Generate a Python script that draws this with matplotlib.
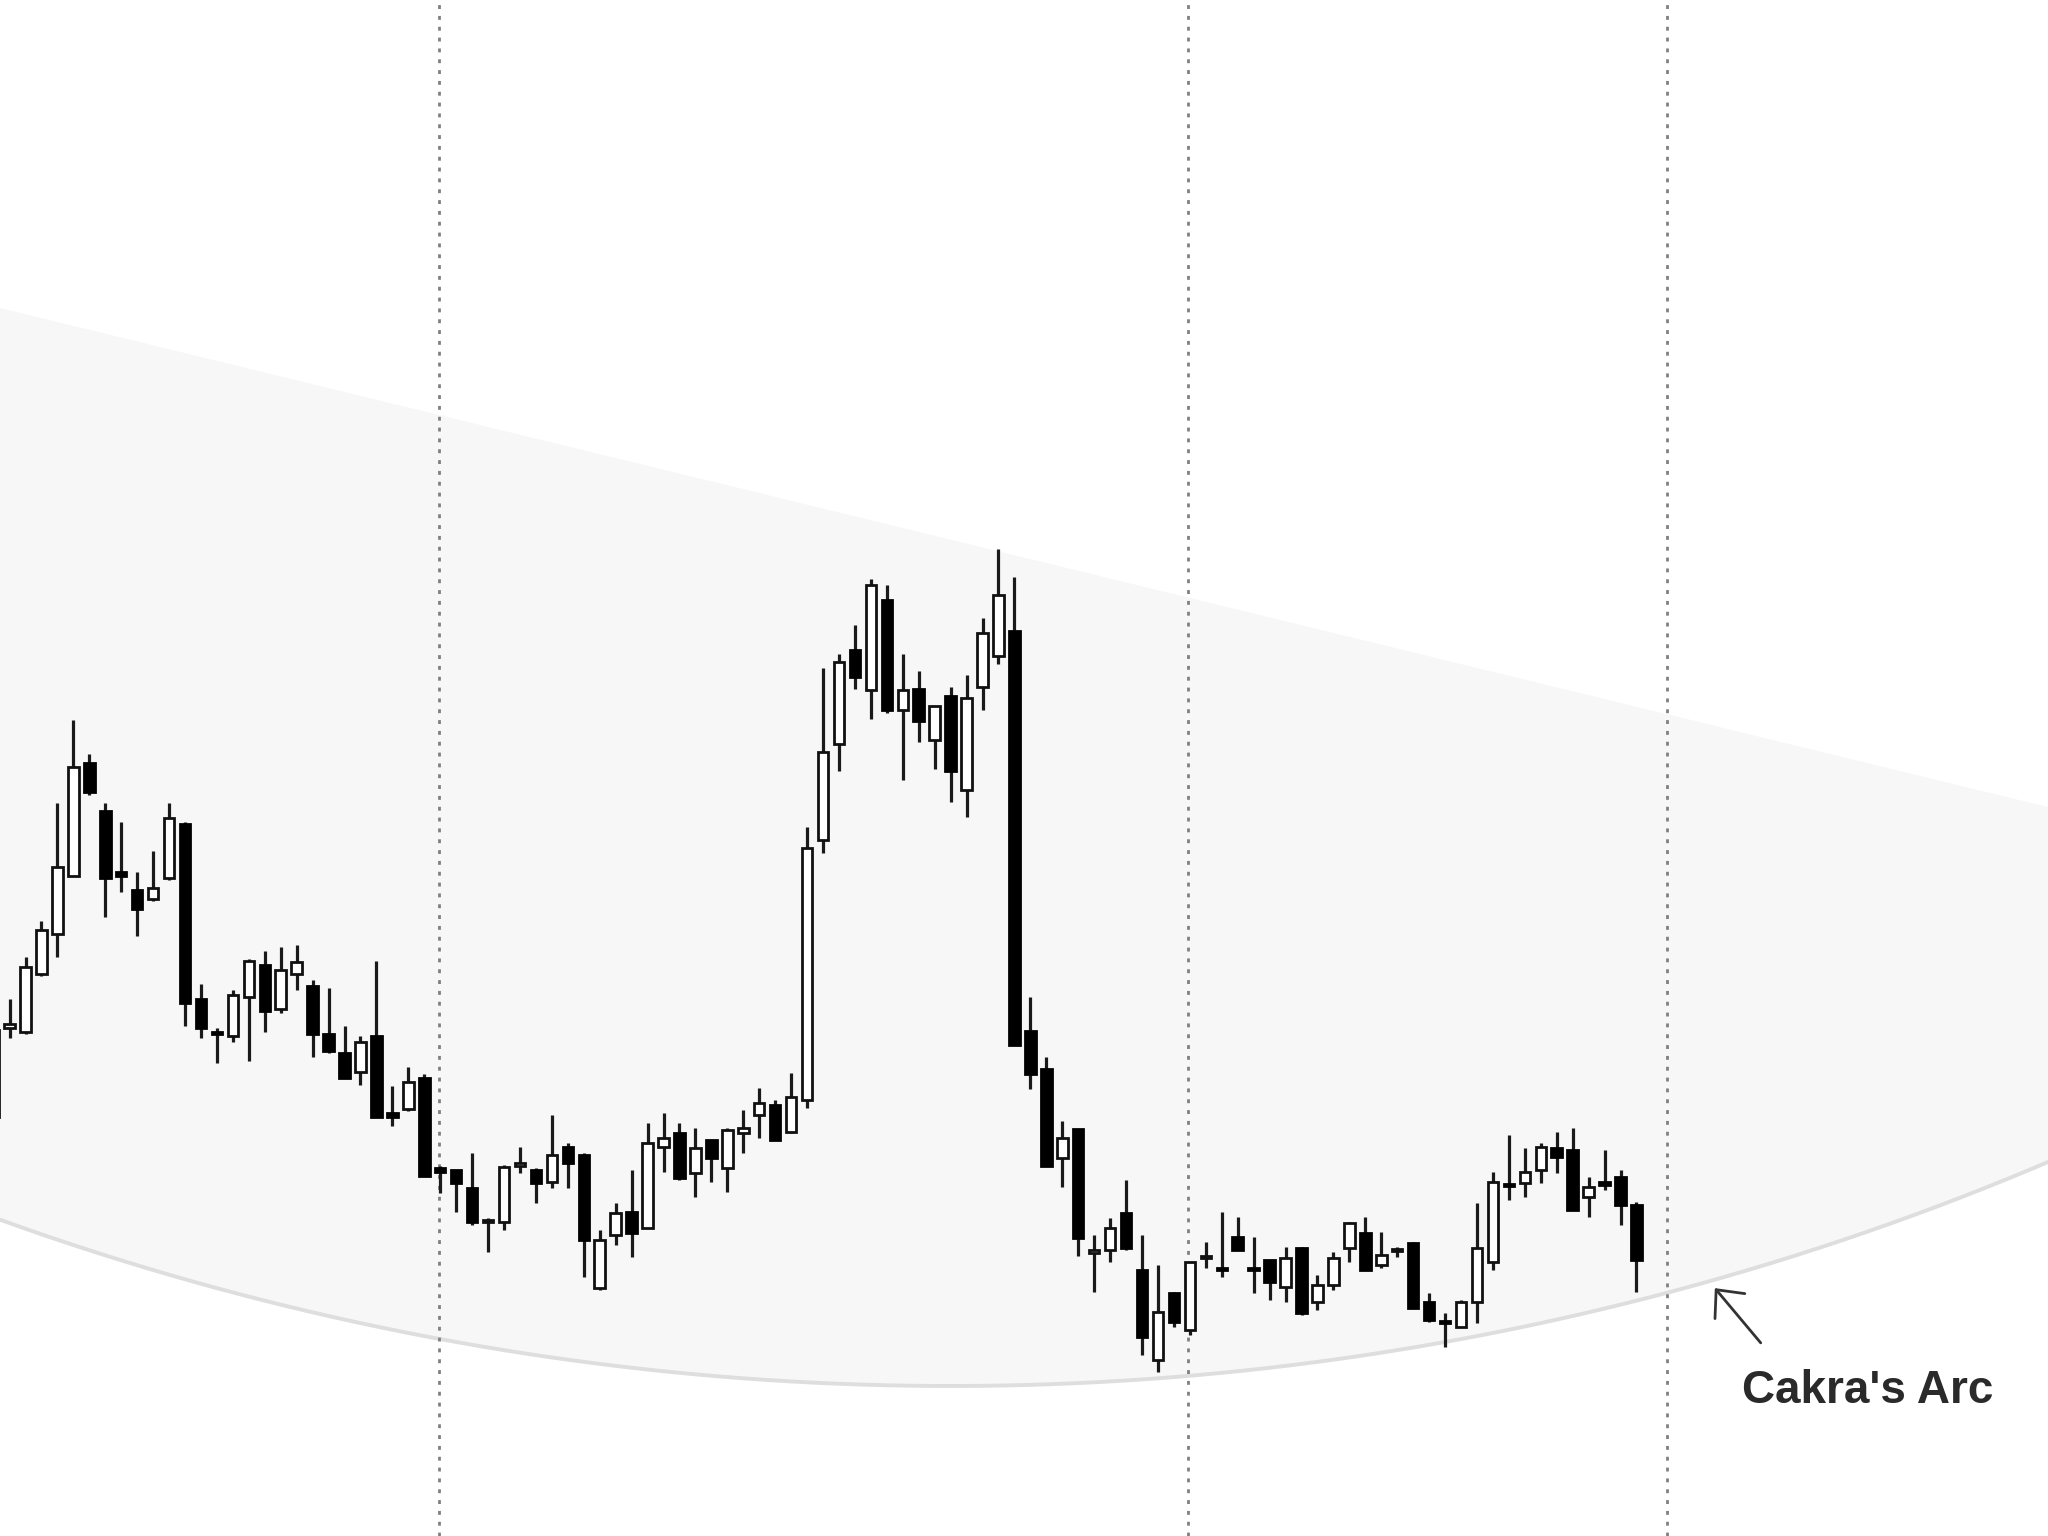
import numpy as np
import matplotlib.pyplot as plt

# --- Candles (price units) --- #
opens = [419, 508, 504, 562, 602, 660, 773, 725, 664, 646,
         637, 658, 712, 537, 504, 500, 539, 571, 527, 562,
         550, 502, 483, 464, 500, 423, 427, 458, 368, 366,
         348, 314, 314, 370, 366, 354, 389, 381, 248, 301,
         324, 308, 389, 403, 363, 396, 368, 403, 421, 431,
         404, 436, 696, 792, 886, 846, 936, 826, 847, 796,
         840, 746, 849, 880, 905, 505, 467, 378, 407, 283,
         286, 323, 266, 176, 243, 206, 278, 268, 299, 268,
         276, 249, 288, 234, 251, 288, 303, 271, 285, 293,
         234, 215, 209, 234, 274, 352, 353, 366, 388, 386,
         339, 354, 359, 331]
highs = [506, 537, 579, 615, 733, 816, 782, 733, 714, 664,
         685, 733, 714, 552, 508, 546, 577, 585, 589, 591,
         556, 548, 510, 500, 575, 450, 469, 462, 370, 366,
         383, 318, 371, 389, 368, 421, 393, 383, 306, 333,
         366, 413, 423, 413, 408, 396, 408, 426, 448, 436,
         463, 709, 868, 882, 911, 957, 951, 882, 865, 830,
         849, 861, 918, 987, 959, 539, 479, 415, 407, 301,
         318, 356, 301, 271, 244, 274, 294, 324, 319, 299,
         276, 289, 289, 261, 284, 314, 319, 304, 289, 294,
         243, 223, 236, 333, 364, 401, 388, 393, 404, 408,
         359, 386, 366, 334]
lows = [419, 498, 502, 560, 579, 660, 741, 619, 644, 600,
        635, 656, 510, 498, 473, 494, 475, 504, 523, 546,
        479, 483, 458, 451, 419, 410, 425, 360, 343, 324,
        311, 284, 306, 363, 333, 348, 348, 259, 246, 291,
        279, 308, 364, 356, 339, 354, 344, 383, 398, 396,
        403, 428, 683, 765, 847, 817, 823, 756, 794, 767,
        734, 719, 826, 872, 491, 447, 370, 349, 280, 244,
        274, 286, 181, 164, 209, 201, 268, 259, 286, 243,
        236, 234, 221, 226, 246, 274, 266, 268, 279, 228,
        214, 189, 209, 213, 266, 336, 339, 353, 363, 326,
        319, 346, 311, 244]
closes = [506, 512, 569, 606, 669, 769, 744, 658, 660, 627,
          648, 718, 533, 508, 502, 541, 575, 525, 566, 574,
          502, 485, 458, 494, 419, 419, 454, 360, 364, 353,
          314, 316, 369, 373, 353, 381, 373, 296, 296, 323,
          303, 393, 398, 358, 388, 378, 406, 408, 433, 396,
          439, 688, 784, 874, 859, 951, 826, 846, 815, 830,
          765, 838, 903, 941, 491, 462, 370, 398, 298, 286,
          308, 288, 199, 224, 214, 274, 280, 266, 286, 266,
          254, 278, 223, 251, 278, 313, 266, 281, 287, 228,
          216, 213, 234, 288, 354, 350, 364, 389, 379, 326,
          349, 351, 331, 276]

# bars where the dotted cycle lines sit
cycle_marks = [27.9, 74.9, 104.9]

# Cakra's Arc: lower edge is a big circle, upper edge a straight line
ARC_CENTER_BAR = 60.0
ARC_CENTER_PRICE = 2950
ARC_RADIUS = 2800
PX_PER_BAR = 15.95
TOP_START = 1228
TOP_SLOPE = -3.887

X_MIN, X_MAX = 0.40, 128.8
Y_MIN, Y_MAX = 0, 1536

fig = plt.figure(figsize=(20.48, 15.36), dpi=100)
ax = fig.add_axes([0, 0, 1, 1])
ax.set_xlim(X_MIN, X_MAX)
ax.set_ylim(Y_MIN, Y_MAX)
ax.axis('off')

# --- Arc band --- #
bars = np.linspace(X_MIN, X_MAX, 600)
dx = (bars - ARC_CENTER_BAR) * PX_PER_BAR
arc_low = ARC_CENTER_PRICE - np.sqrt(ARC_RADIUS**2 - dx**2)
arc_top = TOP_START + TOP_SLOPE * (bars - X_MIN)
ax.fill_between(bars, arc_low, arc_top, color='#f7f7f7', lw=0, zorder=0)
ax.plot(bars, arc_low, color='#dedede', lw=2.8, zorder=1)

# --- Dotted cycle lines --- #
for m in cycle_marks:
    ax.axvline(m, color='#808080', lw=2.0, dashes=(1.4, 2.5), zorder=2)

# --- Candles --- #
idx = np.arange(len(opens))
o = np.array(opens)
c = np.array(closes)
up = c >= o
ax.vlines(idx, lows, highs, color='#1a1a1a', lw=2.3, zorder=3)
bottoms = np.minimum(o, c)
heights = np.maximum(np.abs(c - o), 1.5)
ax.bar(idx[up], heights[up], bottom=bottoms[up], width=0.66,
       color='white', edgecolor='#111111', linewidth=2.0, zorder=4)
ax.bar(idx[~up], heights[~up], bottom=bottoms[~up], width=0.66,
       color='black', edgecolor='black', linewidth=2.0, zorder=4)

# --- Label --- #
ax.annotate('', xy=(107.8, 250), xytext=(110.9, 191),
            arrowprops=dict(arrowstyle='->,head_length=0.55,head_width=0.5',
                            color='#333333', lw=2.0, mutation_scale=28),
            zorder=5)
ax.text(117.5, 145, "Cakra's Arc", ha='center', va='center',
        fontsize=33, fontweight='bold', family='Liberation Sans',
        color='#2a2a2a', zorder=5)

fig.savefig('out.png', dpi=100, facecolor='white')
